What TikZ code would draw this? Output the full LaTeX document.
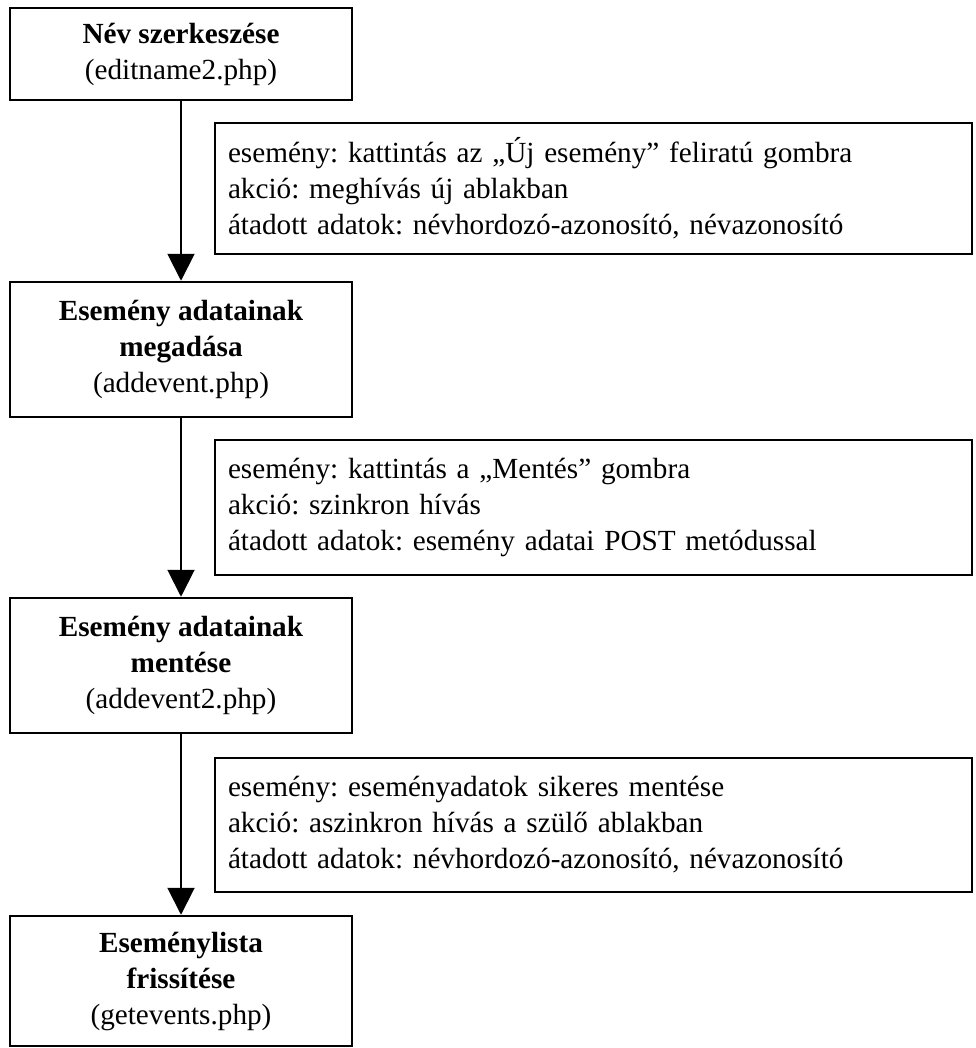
\documentclass[tikz,border=0pt]{standalone}
\usepackage{fontspec}
\setmainfont{Liberation Serif}
\usetikzlibrary{arrows.meta}
\tikzset{
  pagebox/.style={draw,line width=1.25pt,minimum width=171pt,align=center,inner sep=0pt},
  notebox/.style={draw,line width=1.25pt,minimum width=378.5pt,text width=365.5pt,align=left,inner xsep=6.5pt,inner ysep=0pt},
  flow/.style={line width=1pt,-{Triangle[width=13.5pt,length=13.5pt]}}
}
\frenchspacing

\begin{document}
\begin{tikzpicture}[font=\fontsize{14.6}{18}\selectfont]
    \useasboundingbox (0,0) rectangle (487.5pt,-524pt);
    % oldalak
    \node[pagebox,minimum height=46pt]   (nev)    at (90.5pt,-27pt)     {\textbf{Név szerkeszése}\\(editname2.php)};
    \node[pagebox,minimum height=67.5pt] (add)    at (90.5pt,-174.75pt) {\textbf{Esemény adatainak}\\\textbf{megadása}\\(addevent.php)};
    \node[pagebox,minimum height=67.5pt] (ment)   at (90.5pt,-332.75pt) {\textbf{Esemény adatainak}\\\textbf{mentése}\\(addevent2.php)};
    \node[pagebox,minimum height=65pt]   (lista)  at (90.5pt,-490.5pt)  {\textbf{Eseménylista}\\\textbf{frissítése}\\(getevents.php)};
    % hívások
    \foreach \a/\b in {nev/add,add/ment,ment/lista} \draw[flow] (\a) -- (\b);
    \node[notebox,minimum height=65.5pt] (hiv1) at (296.75pt,-94.25pt)
      {esemény: kattintás az „Új esemény” feliratú gombra\\akció: meghívás új ablakban\\átadott adatok: névhordozó-azonosító, névazonosító};
    \node[notebox,minimum height=67.5pt] (hiv2) at (296.75pt,-253.75pt)
      {esemény: kattintás a „Mentés” gombra\\akció: szinkron hívás\\átadott adatok: esemény adatai POST metódussal};
    \node[notebox,minimum height=67pt]   (hiv3) at (296.75pt,-412.5pt)
      {esemény: eseményadatok sikeres mentése\\akció: aszinkron hívás a szülő ablakban\\átadott adatok: névhordozó-azonosító, névazonosító};
\end{tikzpicture}
\end{document}
